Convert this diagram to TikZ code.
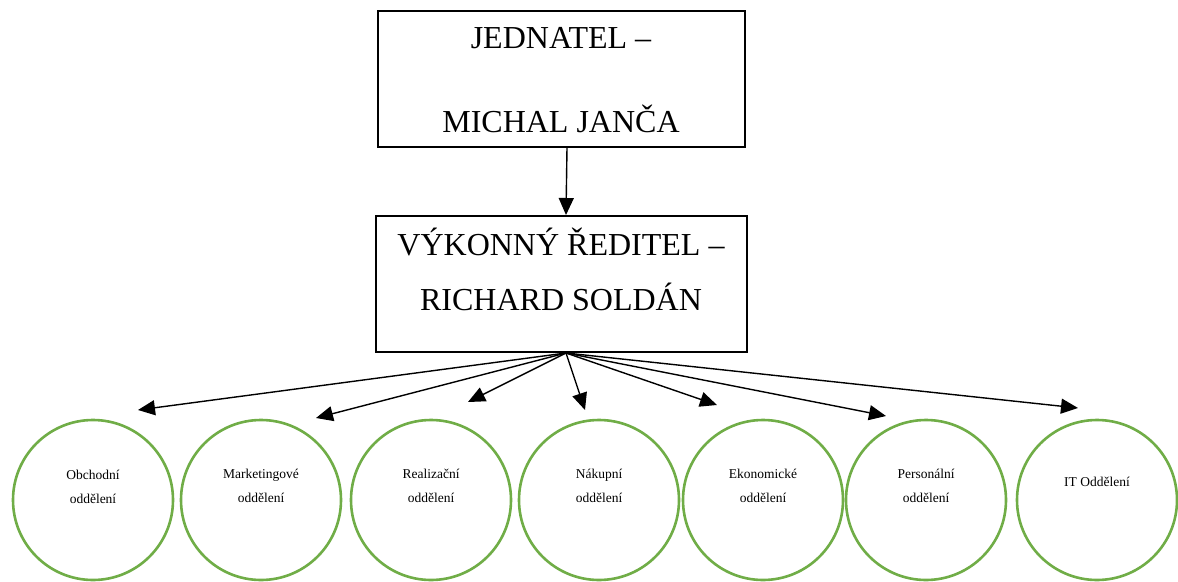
\documentclass[tikz,border=0pt]{standalone}
\usepackage{fontspec}
\setmainfont{Liberation Serif}
\usetikzlibrary{arrows.meta}
\definecolor{deptgreen}{HTML}{70AD47}

\begin{document}
\begin{tikzpicture}[x=1pt,y=-1pt,
  orgbox/.style={draw,line width=2pt,minimum width=367pt,minimum height=136pt,inner sep=0pt},
  boxtext/.style={font=\fontsize{32}{38}\selectfont,inner sep=0pt,anchor=base},
  dept/.style={circle,draw=deptgreen,line width=2.6pt,minimum size=160pt,inner sep=0pt},
  depttext/.style={align=center,font=\fontsize{13.5}{24}\selectfont,inner sep=0pt},
  link/.style={line width=1.4pt,-{Triangle[length=17pt,width=15pt]}}]
\useasboundingbox (0,0) rectangle (1178,581);
% top of the chart
\node[orgbox] (jednatel) at (561,78.5) {};
\node[boxtext] (jednatelA) at (561,48) {JEDNATEL –};
\node[boxtext] (jednatelB) at (561,132) {MICHAL JANČA};
\node[orgbox,minimum width=371pt] (reditel) at (561,284) {};
\node[boxtext] (reditelA) at (561,255) {VÝKONNÝ ŘEDITEL –};
\node[boxtext] (reditelB) at (561,310) {RICHARD SOLDÁN};
\draw[link] ([xshift=6pt]jednatel.south) -- ([xshift=5pt]reditel.north);
% departments
\node[dept] (obchodni) at (93,500) {};
\node[dept] (marketing) at (261,500) {};
\node[dept] (realizace) at (431,500) {};
\node[dept] (nakup) at (599,500) {};
\node[dept] (ekonomika) at (763,500) {};
\node[dept] (personal) at (926,500) {};
\node[dept] (it) at (1097,500) {};
\node[depttext] (obchodniT) at (93,487) {Obchodní\\oddělení};
\node[depttext] (marketingT) at (261,486) {Marketingové\\oddělení};
\node[depttext] (realizaceT) at (431,486) {Realizační\\oddělení};
\node[depttext] (nakupT) at (599,486) {Nákupní\\oddělení};
\node[depttext] (ekonomikaT) at (763,486) {Ekonomické\\oddělení};
\node[depttext] (personalT) at (926,486) {Personální\\oddělení};
\node[depttext] (itT) at (1097,482) {IT Oddělení};
% arrows from the director
\coordinate (fan) at ([xshift=5pt]reditel.south);
\coordinate (tipA) at (138,410);
\coordinate (tipB) at (316,418);
\coordinate (tipC) at (468,402);
\coordinate (tipD) at (585,410);
\coordinate (tipE) at (717,405);
\coordinate (tipF) at (886,416);
\coordinate (tipG) at (1078,408);
\foreach \t in {A,B,C,D,E,F,G}
  \draw[link] (fan) -- (tip\t);
\end{tikzpicture}
\end{document}
